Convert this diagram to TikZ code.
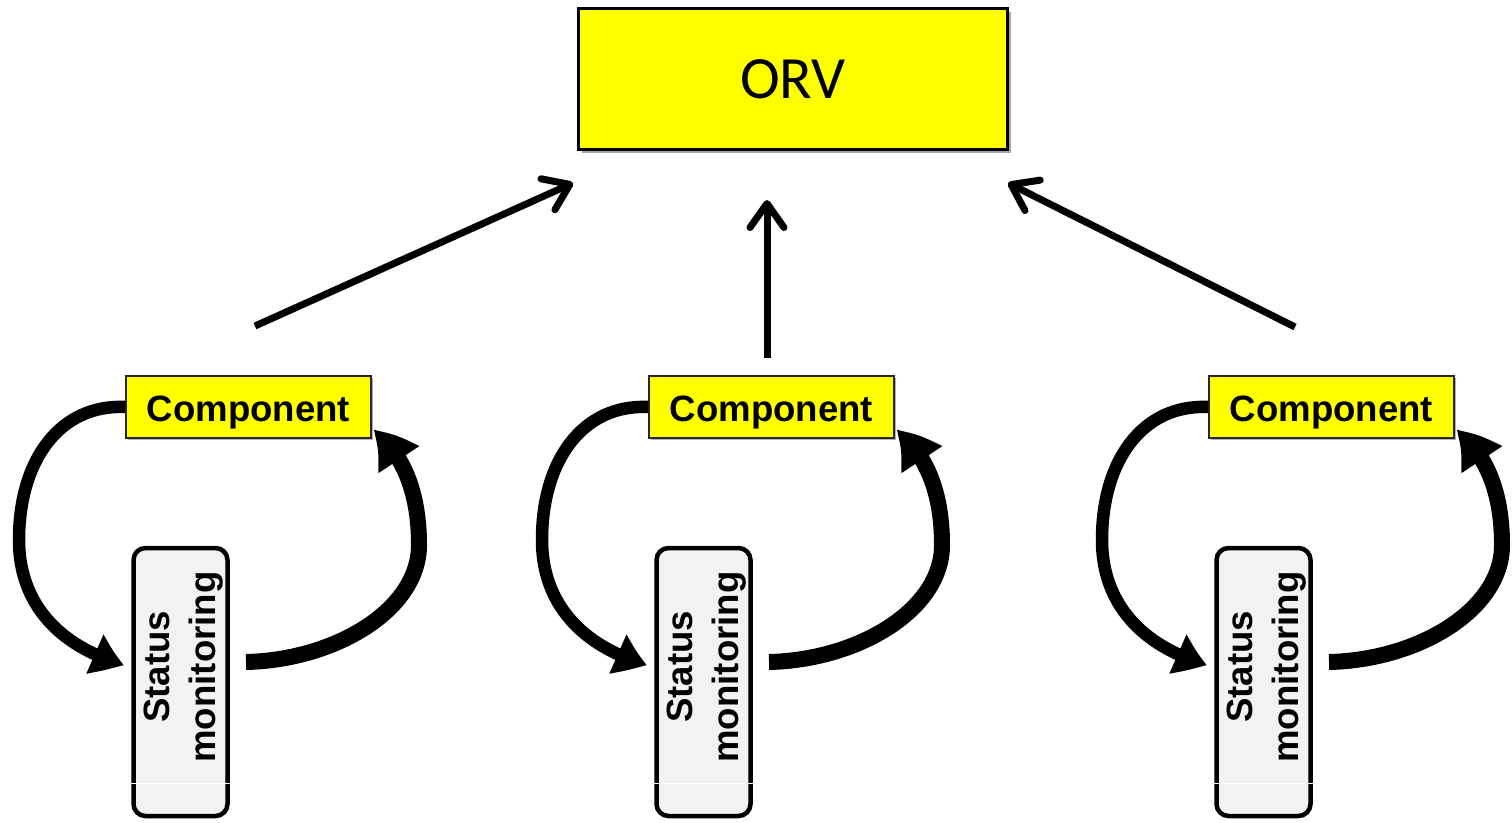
\documentclass[tikz,border=0pt]{standalone}
\usepackage{fontspec}
\setmainfont{Liberation Sans}
\newfontfamily\orvfont{Carlito}
\usetikzlibrary{arrows.meta,bending,shadows}
\definecolor{boxyellow}{RGB}{255,255,0}
\definecolor{statgray}{RGB}{242,242,242}
\begin{document}
\begin{tikzpicture}[x=1pt,y=-1pt,
  orvbox/.style={draw=black, line width=2.5pt, fill=boxyellow, minimum width=429pt, minimum height=141pt, inner sep=0pt,
    drop shadow={shadow xshift=3pt, shadow yshift=-3pt, fill=black!35, opacity=1},
    font=\orvfont\fontsize{60}{66}\selectfont},
  compbox/.style={draw=black!85, line width=1.5pt, fill=boxyellow, minimum width=245pt, minimum height=62pt, inner sep=0pt,
    text height=29pt, text depth=0pt,
    drop shadow={shadow xshift=1.5pt, shadow yshift=-1.5pt, fill=black!30, opacity=1},
    font=\bfseries\fontsize{36.6}{40}\selectfont},
  statbox/.style={draw=black, line width=4.5pt, fill=statgray, rounded corners=12pt, minimum width=94pt, minimum height=268pt, inner sep=0pt},
  stattext/.style={rotate=90, align=center, inner sep=0pt, font=\bfseries\fontsize{36.6}{46}\selectfont},
  uparrow/.style={line width=7pt, -{Straight Barb[length=24pt,width=34pt,line join=round,line cap=round]}},
  loopin/.style={line width=12.5pt, -{Triangle[length=32pt,width=40pt,bend]}},
  loopout/.style={line width=16pt, -{Triangle[length=40pt,width=46pt,bend]}}
]
\useasboundingbox (0,0) rectangle (1512,822);

\node[orvbox] (orv) at (793,79) {ORV};

\foreach \i/\dx in {1/0, 2/523, 3/1083}{
  \node[statbox] (stat\i) at ({180.5+\dx},682) {};
  \draw[white, line width=1pt] ({128+\dx},783) -- ({233+\dx},783);
  \node[stattext] (stxt\i) at ({184+\dx},667) {Status\\monitoring};
  \node[compbox] (comp\i) at ({248.5+\dx},407) {Component};
  \coordinate (inend\i) at ({124+\dx},665);
  \coordinate (outstart\i) at ({246+\dx},662);
  \coordinate (outend\i) at ({373+\dx},430);
  \draw[loopin] (comp\i.west) .. controls ({60+\dx},404) and ({19+\dx},460) .. ({19+\dx},540)
     .. controls ({19+\dx},600) and ({55+\dx},645) .. (inend\i);
  \draw[loopout] (outstart\i) .. controls ({335+\dx},660) and ({419+\dx},610) .. ({419+\dx},545)
     .. controls ({419+\dx},495) and ({405+\dx},455) .. (outend\i);
}

\coordinate (a1s) at (255,326);
\coordinate (a1e) at (573,183);
\coordinate (a2s) at (767,358);
\coordinate (a2e) at (767,200);
\coordinate (a3s) at (1295,327);
\coordinate (a3e) at (1008,183);
\draw[uparrow] (a1s) -- (a1e);
\draw[uparrow] (a2s) -- (a2e);
\draw[uparrow] (a3s) -- (a3e);
\end{tikzpicture}
\end{document}
